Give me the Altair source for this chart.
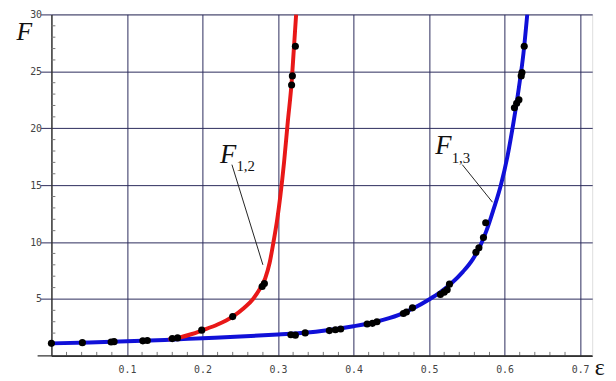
import altair as alt
import pandas as pd

# ---- data ----
blue_eps = [0.0, 0.05, 0.1, 0.15, 0.2, 0.25, 0.3, 0.35, 0.4, 0.43, 0.46, 0.48, 0.5, 0.515,
            0.53, 0.545, 0.558, 0.568, 0.576, 0.585, 0.595, 0.604, 0.612, 0.619, 0.625, 0.630]
blue_F = [1.1, 1.18, 1.28, 1.4, 1.55, 1.7, 1.88, 2.12, 2.6, 3.0, 3.6, 4.2, 4.95, 5.6,
          6.4, 7.4, 8.5, 9.7, 11.0, 12.8, 15.0, 17.6, 20.6, 23.6, 26.6, 30.0]

red_eps = [0.155, 0.17, 0.185, 0.2, 0.22, 0.24, 0.255, 0.267, 0.276, 0.283, 0.289, 0.294,
           0.299, 0.303, 0.308, 0.313, 0.318, 0.321, 0.324]
red_F = [1.45, 1.62, 1.9, 2.25, 2.75, 3.45, 4.2, 5.0, 5.9, 6.8, 8.2, 10.0,
         12.0, 14.0, 17.0, 20.6, 24.0, 27.0, 30.0]

dot_eps = [0.0, 0.041, 0.079, 0.083, 0.121, 0.127, 0.160, 0.167, 0.199, 0.240, 0.279, 0.282,
           0.318, 0.319, 0.323, 0.317, 0.323, 0.336, 0.368, 0.376, 0.383, 0.418, 0.425, 0.431,
           0.466, 0.470, 0.478, 0.515, 0.520, 0.524, 0.527, 0.562, 0.566, 0.572, 0.575,
           0.613, 0.616, 0.619, 0.622, 0.623, 0.626]
dot_F = [1.10, 1.16, 1.22, 1.25, 1.32, 1.35, 1.52, 1.58, 2.26, 3.45, 6.1, 6.35,
         23.8, 24.6, 27.2, 1.85, 1.82, 2.02, 2.22, 2.3, 2.36, 2.8, 2.86, 3.0,
         3.72, 3.85, 4.22, 5.4, 5.6, 5.8, 6.3, 9.1, 9.5, 10.4, 11.7,
         21.8, 22.2, 22.5, 24.6, 24.9, 27.2]

x_ticks = [0.1, 0.2, 0.3, 0.4, 0.5, 0.6, 0.7]
y_ticks = [5, 10, 15, 20, 25, 30]
x_minor = [0.02, 0.04, 0.06, 0.08, 0.12, 0.14, 0.16, 0.18, 0.22, 0.24, 0.26, 0.28,
           0.32, 0.34, 0.36, 0.38, 0.42, 0.44, 0.46, 0.48, 0.52, 0.54, 0.56, 0.58,
           0.62, 0.64, 0.66, 0.68]
y_minor = [1, 2, 3, 4, 6, 7, 8, 9, 11, 12, 13, 14, 16, 17, 18, 19, 21, 22, 23, 24,
           26, 27, 28, 29]

# annotation labels (data coordinates)
lab_main = ["F", "F"]
lab_sub = ["1,2", "1,3"]
lab_eps = [0.234, 0.519]
lab_F = [16.96, 17.74]
sub_eps = [0.245, 0.530]
sub_F = [16.26, 16.96]
lead_eps = [0.239, 0.544]
lead_F = [16.8, 16.8]
lead_eps2 = [0.280, 0.584]
lead_F2 = [8.0, 13.5]

W, H = 548, 346
GRID = "#2a2a5a"

xs = alt.Scale(domain=[0, 0.716], nice=False, zero=False)
ys = alt.Scale(domain=[0, 30], nice=False, zero=False)

xaxis = alt.Axis(values=x_ticks, format=".1f", grid=True, gridColor=GRID, gridWidth=1,
                 ticks=False, labelPadding=9, labelFont="DejaVu Sans Mono", labelFontSize=10,
                 labelColor="#444", labelFlush=False, labelOverlap=False,
                 domainColor="#333", domainWidth=1.5,
                 title="ε", titleFont="Liberation Serif", titleFontSize=24,
                 titleFontWeight="normal", titleColor="#111", titleX=555, titleY=19,
                 titleAlign="center", titleBaseline="alphabetic")
yaxis = alt.Axis(values=y_ticks, format="d", grid=True, gridColor=GRID, gridWidth=1,
                 ticks=True, tickSize=11, tickColor=GRID, tickWidth=1,
                 labelPadding=-1, labelFont="DejaVu Sans Mono", labelFontSize=10,
                 labelColor="#444", labelFlush=False, labelOverlap=False,
                 domainColor="#333", domainWidth=1.5,
                 title="F", titleFont="Liberation Serif", titleFontStyle="italic",
                 titleFontSize=26, titleFontWeight="normal", titleColor="#111",
                 titleAngle=0, titleX=-28, titleY=17, titleAlign="center",
                 titleBaseline="middle")


def X(f):
    return alt.X(f, type="quantitative", scale=xs, axis=xaxis)


def Y(f):
    return alt.Y(f, type="quantitative", scale=ys, axis=yaxis)


blue_df = pd.DataFrame({"eps": blue_eps, "F": blue_F})
red_df = pd.DataFrame({"eps": red_eps, "F": red_F})
dot_df = pd.DataFrame({"eps": dot_eps, "F": dot_F})
xm_df = pd.DataFrame({"v": x_minor})
ym_df = pd.DataFrame({"v": y_minor})
lab_df = pd.DataFrame({"t": lab_main, "eps": lab_eps, "F": lab_F})
sub_df = pd.DataFrame({"t": lab_sub, "eps": sub_eps, "F": sub_F})
lead_df = pd.DataFrame({"eps": lead_eps, "F": lead_F, "eps2": lead_eps2, "F2": lead_F2})

blue = alt.Chart(blue_df).mark_line(color="#1010d8", strokeWidth=4, interpolate="monotone",
                                    clip=True).encode(x=X("eps"), y=Y("F"))
red = alt.Chart(red_df).mark_line(color="#e81818", strokeWidth=4, interpolate="monotone",
                                  clip=True).encode(x=X("eps"), y=Y("F"))
dots = alt.Chart(dot_df).mark_circle(color="black", size=52, opacity=1).encode(
    x=X("eps"), y=Y("F"))

xminor = alt.Chart(xm_df).mark_rule(color="#777", strokeWidth=1).encode(
    x=X("v"), y=alt.value(H - 4), y2=alt.value(H))
yminor = alt.Chart(ym_df).mark_rule(color="#777", strokeWidth=1).encode(
    y=Y("v"), x=alt.value(0), x2=alt.value(4))
xline_ext = alt.Chart(xm_df.head(1)).mark_rule(color="#333", strokeWidth=1.5).encode(
    x=alt.value(-14), x2=alt.value(W), y=alt.value(H))

leaders = alt.Chart(lead_df).mark_rule(color="#222", strokeWidth=1).encode(
    x=X("eps"), y=Y("F"), x2="eps2", y2="F2")
labels = alt.Chart(lab_df).mark_text(font="Liberation Serif", fontStyle="italic",
                                     fontSize=27, color="#111", align="center",
                                     baseline="alphabetic").encode(
    x=X("eps"), y=Y("F"), text="t")
subs = alt.Chart(sub_df).mark_text(font="Liberation Serif", fontSize=15, color="#111",
                                   align="left", baseline="alphabetic").encode(
    x=X("eps"), y=Y("F"), text="t")

chart = alt.layer(xminor, yminor, xline_ext, blue, red, dots, leaders, labels, subs).properties(
    width=W, height=H,
    autosize=alt.AutoSizeParams(type="none"),
    padding={"left": 44, "top": 4, "right": 16, "bottom": 26},
).configure_view(stroke=None).configure(background="white")

chart.save("out.html", embed_options={"renderer": "svg", "actions": False})
